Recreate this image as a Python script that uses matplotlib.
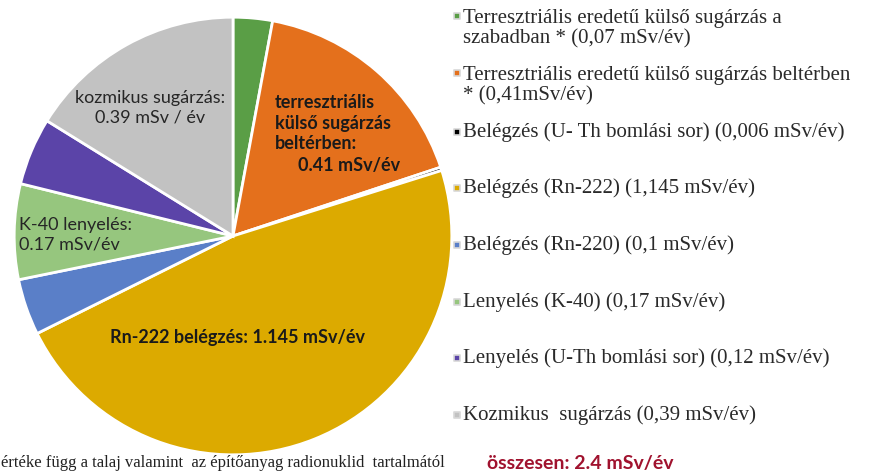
import matplotlib.pyplot as plt

# slices, clockwise from 12 o'clock
values = [0.07, 0.41, 0.006, 1.145, 0.1, 0.17, 0.12, 0.39]
colors = ['#5a9e46', '#e4701c', '#000000', '#dcaa00', '#5a7fc8',
          '#96c67e', '#5b44a8', '#c2c2c2']
legend_labels = [
    'Terresztriális eredetű külső sugárzás a\nszabadban * (0,07 mSv/év)',
    'Terresztriális eredetű külső sugárzás beltérben\n* (0,41mSv/év)',
    'Belégzés (U- Th bomlási sor) (0,006 mSv/év)',
    'Belégzés (Rn-222) (1,145 mSv/év)',
    'Belégzés (Rn-220) (0,1 mSv/év)',
    'Lenyelés (K-40) (0,17 mSv/év)',
    'Lenyelés (U-Th bomlási sor) (0,12 mSv/év)',
    'Kozmikus  sugárzás (0,39 mSv/év)',
]
legend_y = [29, 86, 132, 188, 245, 302, 358, 415]
total_text = 'összesen: 2.4 mSv/év'
note_text = 'értéke függ a talaj valamint  az építőanyag radionuklid  tartalmától'

W, H = 870, 476
fig = plt.figure(figsize=(W / 100, H / 100), dpi=100)
fig.patch.set_facecolor('white')

# pie axes, placed in pixels
cx, cy, r = 233, 236, 221
pax = fig.add_axes([(cx - r) / W, (H - cy - r) / H, 2 * r / W, 2 * r / H])
pax.pie(values, colors=colors, startangle=90, counterclock=False, radius=1,
        wedgeprops=dict(edgecolor='white', linewidth=2))
pax.set_xlim(-1.01, 1.01)
pax.set_ylim(-1.01, 1.01)
pax.set_aspect('equal')
pax.axis('off')

# overlay axes in pixel coordinates for the texts
ax = fig.add_axes([0, 0, 1, 1])
ax.set_xlim(0, W)
ax.set_ylim(H, 0)
ax.axis('off')

sans = 'Lato'
ax.text(150, 108, 'kozmikus sugárzás:\n0.39 mSv / év', family=sans, fontsize=13,
        ha='center', va='center', color='#262626', linespacing=1.3)
ax.text(275, 94, 'terresztriális\nkülső sugárzás\nbeltérben:', family=sans,
        fontsize=13, fontweight='bold', ha='left', va='top', color='#1a1a1a',
        linespacing=1.25)
ax.text(349, 166, '0.41 mSv/év', family=sans, fontsize=13, fontweight='bold',
        ha='center', va='center', color='#1a1a1a')
ax.text(19, 235, 'K-40 lenyelés:\n0.17 mSv/év', family=sans, fontsize=13,
        ha='left', va='center', color='#262626', linespacing=1.3)
ax.text(238, 337, 'Rn-222 belégzés: 1.145 mSv/év', family=sans, fontsize=13,
        fontweight='bold', ha='center', va='center', color='#1a1a1a')

# legend
for c, lab, y in zip(colors, legend_labels, legend_y):
    first_y = y - 13 if '\n' in lab else y
    ax.scatter([457], [first_y], marker='s', s=22, color=c,
               edgecolors='#d8d8d8', linewidths=1.2)
    ax.text(463, y, lab, family='Liberation Serif', fontsize=15,
            ha='left', va='center', color='#2a2a2a', linespacing=1.1)

ax.text(487, 463, total_text, family=sans, fontsize=14, fontweight='bold',
        ha='left', va='center', color='#a0122e')
ax.text(1, 463, note_text, family='Liberation Serif', fontsize=12,
        ha='left', va='center', color='#222222')

fig.savefig('out.png', dpi=100, facecolor='white')
